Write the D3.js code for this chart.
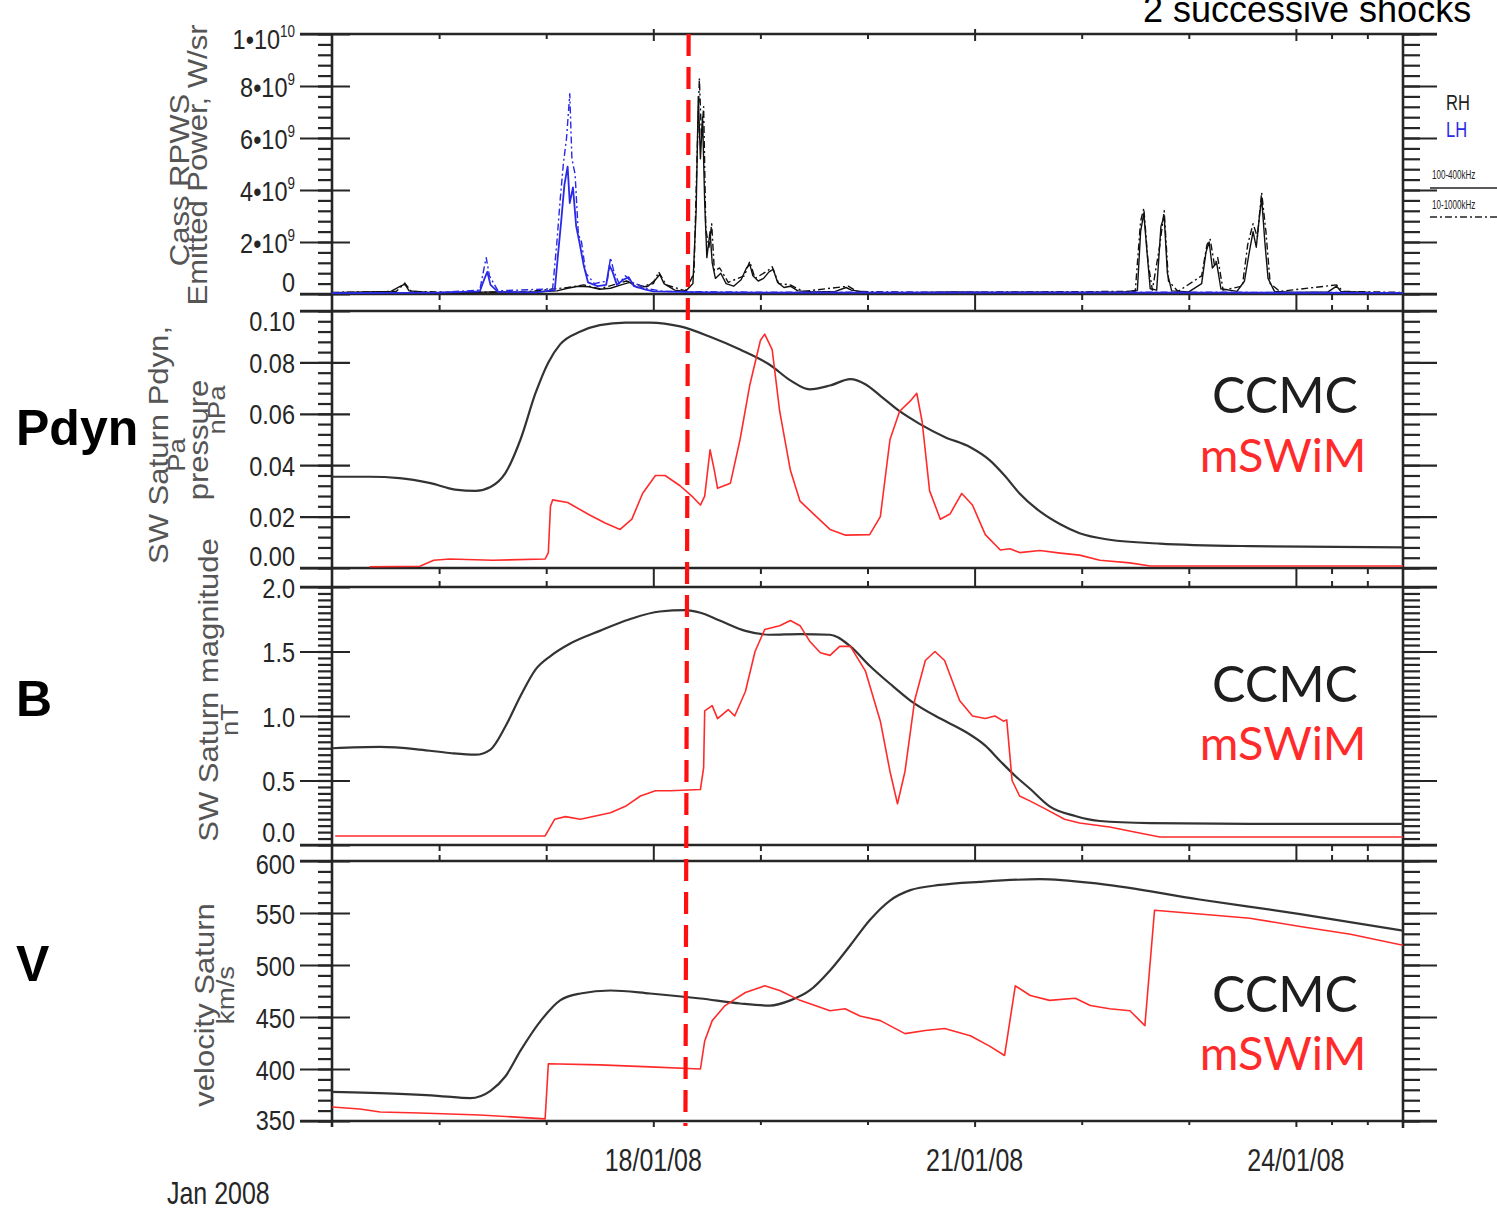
<!DOCTYPE html>
<html>
<head>
<meta charset="utf-8">
<script src="https://cdn.jsdelivr.net/npm/d3@7"></script>
<style>
  html, body { margin: 0; padding: 0; background: #fff; }
  svg { display: block; }
</style>
</head>
<body>
<svg id="chart" width="1497" height="1213"></svg>
<script>
// ---------- Data (time in decimal day of January 2008) ----------

// Cassini RPWS emitted power, units of 1e9 W/sr
const rh100 = [
  [15.00,0.05],[15.30,0.08],[15.55,0.10],[15.64,0.30],[15.68,0.38],[15.72,0.12],[15.90,0.06],[16.20,0.05],
  [16.50,0.08],[16.80,0.06],[17.10,0.12],[17.20,0.22],[17.30,0.30],[17.40,0.28],[17.50,0.18],[17.60,0.22],
  [17.70,0.35],[17.78,0.45],[17.85,0.25],[17.95,0.30],[18.02,0.55],[18.06,0.75],[18.10,0.40],[18.20,0.15],
  [18.30,0.10],[18.37,0.40],[18.40,3.20],[18.42,7.60],[18.44,5.20],[18.46,6.80],[18.48,3.50],[18.50,1.40],
  [18.53,2.40],[18.55,1.20],[18.58,0.60],[18.63,0.80],[18.68,0.40],[18.75,0.30],[18.82,0.55],[18.87,1.00],
  [18.90,1.15],[18.93,0.70],[18.98,0.50],[19.03,0.60],[19.08,0.85],[19.12,0.95],[19.16,0.45],[19.22,0.25],
  [19.28,0.30],[19.35,0.12],[19.50,0.08],[19.70,0.10],[19.80,0.25],[19.85,0.15],[20.00,0.06],[20.40,0.05],
  [20.80,0.08],[21.20,0.06],[21.60,0.07],[22.00,0.06],[22.40,0.08],[22.52,0.15],[22.55,2.40],[22.58,3.10],
  [22.61,1.60],[22.64,0.20],[22.70,0.15],[22.74,2.60],[22.77,3.00],[22.80,0.80],[22.84,0.12],[23.00,0.08],
  [23.12,0.40],[23.16,1.60],[23.19,2.00],[23.22,1.00],[23.26,1.20],[23.30,0.20],[23.45,0.10],[23.52,0.50],
  [23.56,1.50],[23.60,2.40],[23.63,1.80],[23.66,3.00],[23.68,3.70],[23.71,2.00],[23.74,0.60],[23.80,0.10],
  [24.00,0.06],[24.30,0.08],[24.38,0.30],[24.42,0.10],[24.70,0.06],[25.00,0.05]
];
const rh10 = [
  [15.00,0.06],[15.60,0.10],[15.68,0.42],[15.74,0.10],[16.20,0.06],[16.80,0.08],[17.20,0.25],[17.35,0.35],
  [17.50,0.20],[17.75,0.50],[17.90,0.30],[18.00,0.40],[18.05,0.85],[18.12,0.35],[18.30,0.12],[18.38,0.80],
  [18.41,5.50],[18.43,8.30],[18.45,6.00],[18.47,7.20],[18.49,2.50],[18.52,1.80],[18.545,2.70],[18.57,0.90],
  [18.62,1.00],[18.70,0.45],[18.85,0.70],[18.90,1.25],[18.95,0.60],[19.07,0.90],[19.11,1.05],[19.17,0.40],
  [19.28,0.35],[19.40,0.10],[19.82,0.30],[19.90,0.10],[20.50,0.06],[21.50,0.08],[22.50,0.10],[22.55,2.80],
  [22.58,3.30],[22.62,1.20],[22.66,0.15],[22.73,1.90],[22.77,3.20],[22.81,0.50],[22.90,0.10],[23.12,0.70],
  [23.17,1.90],[23.20,2.10],[23.24,1.10],[23.27,1.40],[23.32,0.15],[23.50,0.30],[23.55,1.90],[23.60,2.70],
  [23.64,2.20],[23.68,3.90],[23.72,2.40],[23.76,0.40],[23.85,0.10],[24.38,0.35],[24.44,0.10],[25.00,0.06]
];
const lh100 = [
  [15.00,0.03],[15.50,0.04],[16.00,0.05],[16.38,0.10],[16.42,0.55],[16.45,0.85],[16.48,0.35],[16.55,0.08],
  [16.90,0.06],[17.08,0.15],[17.11,1.50],[17.14,2.80],[17.17,4.20],[17.20,4.90],[17.22,3.50],[17.25,4.10],
  [17.28,2.60],[17.31,2.00],[17.35,1.10],[17.39,0.45],[17.48,0.30],[17.56,0.35],[17.59,1.10],[17.62,0.85],
  [17.66,0.35],[17.72,0.55],[17.77,0.65],[17.82,0.30],[17.92,0.18],[18.00,0.10],[18.50,0.06],[19.50,0.05],
  [20.50,0.05],[21.50,0.05],[22.50,0.05],[23.50,0.05],[25.00,0.04]
];
const lh10 = [
  [15.00,0.04],[16.00,0.06],[16.38,0.15],[16.42,1.00],[16.44,1.40],[16.47,0.70],[16.55,0.12],[17.06,0.20],
  [17.10,2.00],[17.13,3.60],[17.16,5.00],[17.19,6.00],[17.22,7.70],[17.24,5.20],[17.27,4.60],[17.30,2.30],
  [17.33,2.00],[17.37,0.80],[17.45,0.40],[17.57,0.50],[17.60,1.40],[17.63,0.90],[17.68,0.40],[17.74,0.70],
  [17.80,0.45],[17.95,0.20],[18.10,0.10],[19.00,0.07],[21.00,0.07],[23.00,0.07],[25.00,0.05]
];

// Solar-wind dynamic pressure at Saturn, nPa
const ccmcPdyn = [
  [15.00,0.0355],[15.35,0.0355],[15.63,0.0350],[15.92,0.0330],[16.15,0.0305],[16.34,0.0300],[16.48,0.0315],
  [16.62,0.0370],[16.76,0.0500],[16.90,0.0680],[17.02,0.0800],[17.13,0.0870],[17.32,0.0920],[17.50,0.0945],
  [17.74,0.0955],[17.97,0.0955],[18.25,0.0940],[18.53,0.0900],[18.81,0.0850],[19.09,0.0790],[19.28,0.0730],
  [19.46,0.0695],[19.65,0.0710],[19.84,0.0735],[19.98,0.0715],[20.12,0.0670],[20.30,0.0610],[20.49,0.0560],
  [20.72,0.0510],[20.96,0.0470],[21.14,0.0420],[21.28,0.0360],[21.42,0.0290],[21.61,0.0220],[21.80,0.0170],
  [21.98,0.0135],[22.26,0.0110],[22.73,0.0095],[23.57,0.0085],[25.00,0.0080]
];
const mswimPdyn = [
  [15.35,0.0005],[15.82,0.0007],[15.95,0.0030],[16.10,0.0035],[16.50,0.0030],[16.99,0.0035],[17.02,0.0060],
  [17.04,0.0240],[17.06,0.0265],[17.20,0.0255],[17.41,0.0205],[17.55,0.0175],[17.69,0.0150],[17.80,0.0190],
  [17.90,0.0290],[18.02,0.0360],[18.11,0.0360],[18.25,0.0320],[18.36,0.0280],[18.44,0.0245],[18.48,0.0280],
  [18.53,0.0460],[18.57,0.0380],[18.60,0.0310],[18.72,0.0330],[18.81,0.0500],[18.90,0.0710],[19.00,0.0885],
  [19.04,0.0910],[19.11,0.0850],[19.18,0.0610],[19.28,0.0380],[19.37,0.0260],[19.51,0.0205],[19.65,0.0150],
  [19.79,0.0128],[20.02,0.0130],[20.12,0.0200],[20.21,0.0500],[20.30,0.0610],[20.40,0.0650],[20.46,0.0680],
  [20.51,0.0570],[20.58,0.0300],[20.68,0.0190],[20.77,0.0210],[20.88,0.0290],[20.98,0.0245],[21.10,0.0130],
  [21.24,0.0070],[21.33,0.0075],[21.42,0.0060],[21.61,0.0068],[21.80,0.0058],[21.98,0.0050],[22.17,0.0030],
  [22.45,0.0020],[22.64,0.0008],[25.00,0.0008]
];

// IMF magnitude at Saturn, nT
const ccmcB = [
  [15.00,0.75],[15.45,0.76],[15.82,0.74],[16.10,0.713],[16.34,0.70],[16.48,0.74],[16.62,0.92],[16.76,1.155],
  [16.90,1.36],[17.04,1.465],[17.22,1.56],[17.50,1.66],[17.78,1.75],[18.06,1.81],[18.30,1.82],[18.44,1.80],
  [18.62,1.74],[18.86,1.66],[19.09,1.63],[19.37,1.635],[19.65,1.63],[19.84,1.54],[20.02,1.39],[20.21,1.25],
  [20.40,1.12],[20.68,0.98],[20.91,0.88],[21.10,0.77],[21.24,0.65],[21.38,0.535],[21.52,0.434],[21.70,0.30],
  [21.94,0.225],[22.17,0.186],[22.64,0.17],[23.57,0.163],[25.00,0.163]
];
const mswimB = [
  [15.03,0.07],[16.99,0.07],[17.08,0.20],[17.18,0.22],[17.32,0.20],[17.60,0.25],[17.74,0.30],[17.88,0.38],
  [18.02,0.42],[18.16,0.42],[18.44,0.43],[18.47,0.60],[18.48,1.04],[18.55,1.08],[18.60,0.98],[18.70,1.05],
  [18.76,1.00],[18.86,1.19],[18.95,1.50],[19.04,1.67],[19.18,1.70],[19.28,1.74],[19.37,1.70],[19.46,1.58],
  [19.56,1.49],[19.65,1.47],[19.74,1.54],[19.84,1.54],[19.98,1.35],[20.12,0.96],[20.21,0.57],[20.28,0.32],
  [20.35,0.57],[20.44,1.12],[20.54,1.43],[20.63,1.50],[20.72,1.43],[20.86,1.12],[20.98,1.00],[21.10,0.98],
  [21.19,1.00],[21.27,0.96],[21.30,0.97],[21.35,0.50],[21.42,0.38],[21.52,0.34],[21.66,0.28],[21.84,0.20],
  [21.98,0.17],[22.26,0.14],[22.54,0.093],[22.73,0.062],[25.00,0.062]
];

// Solar-wind speed at Saturn, km/s
const ccmcV = [
  [15.00,378],[15.63,376],[16.01,374],[16.29,372],[16.48,379],[16.62,393],[16.76,417.6],[16.95,446.5],
  [17.13,466],[17.32,472.6],[17.60,475.5],[17.97,472.6],[18.44,467.8],[18.81,463],[19.09,461],[19.28,466],
  [19.46,475.5],[19.65,494.8],[19.84,519],[20.02,543],[20.21,562],[20.40,572],[20.68,577],[21.05,580],
  [21.61,582.6],[22.17,578],[23.10,563],[24.04,549],[25.00,533]
];
const mswimV = [
  [15.00,363.5],[15.26,361.6],[15.45,358.7],[15.82,357.7],[16.38,355.8],[16.99,352],[17.02,405],[17.50,404],
  [17.97,402],[18.44,400],[18.48,427],[18.55,446.5],[18.67,461],[18.86,473.6],[19.04,480],[19.18,475.5],
  [19.37,466],[19.65,456],[19.79,458],[19.93,451],[20.12,446.5],[20.35,434],[20.54,437],[20.72,439],
  [20.96,432],[21.14,422],[21.28,413],[21.38,480],[21.52,470.7],[21.70,466],[21.94,468],[22.08,461],
  [22.26,458],[22.45,456],[22.59,441.7],[22.68,552.7],[23.10,549],[23.57,545],[24.04,537],[24.51,529.5],
  [25.00,519]
];

// Time axis
const timeDomain = [15, 25];
const dateTicks = [18, 21, 24];
const dateLabels = ["18/01/08", "21/01/08", "24/01/08"];
const minorDateTicks = [16, 17, 19, 20, 22, 23, 24.333, 24.667];
const shockTime = [18.33, 18.30];   // dashed marker: top and bottom ends

// Y tick values per panel
const powerTicks = [0, 2, 4, 6, 8, 10];
const pdynTicks = [0, 0.02, 0.04, 0.06, 0.08, 0.10];
const bTicks = [0, 0.5, 1.0, 1.5, 2.0];
const vTicks = [350, 400, 450, 500, 550, 600];

// ---------- Drawing ----------
const FONT = "'Liberation Sans', Arial, Helvetica, sans-serif";
const INK = "#262626";
const RED = "#ff2b2b";
const BLUE = "#2a2ae6";

const svg = d3.select("#chart");
const x = d3.scaleLinear().domain(timeDomain).range([332, 1403]);
const xL = 300, xR = 1437;

// labelShift: baseline offset of the lowest / highest label so stacked panels don't collide
const panels = [
  { id: "power", top: 34, bottom: 294, domain: [0, 10], ticks: powerTicks, minorStep: 0.4,
    lowShift: -3, highShift: 14,
    label: d => d === 0 ? ["0", null] : d === 10 ? ["1\u202210", "10"] : [d + "\u202210", "9"] },
  { id: "pdyn", top: 311, bottom: 568, domain: [0, 0.1], ticks: pdynTicks, minorStep: 0.004,
    lowShift: -3, highShift: 19,
    label: d => [d.toFixed(2), null] },
  { id: "bmag", top: 587, bottom: 845, domain: [0, 2], ticks: bTicks, minorStep: 0.05,
    lowShift: -4, highShift: 10,
    label: d => [d.toFixed(1), null] },
  { id: "vel", top: 861, bottom: 1121, domain: [350, 600], ticks: vTicks, minorStep: 10,
    lowShift: 8, highShift: 12,
    label: d => [String(d), null] }
];
panels.forEach(p => {
  p.y = d3.scaleLinear().domain(p.domain).range([p.bottom, p.top]);
  const n = Math.round((p.domain[1] - p.domain[0]) / p.minorStep);
  p.minor = d3.range(n + 1).map(i => p.domain[0] + i * p.minorStep);
});

const defs = svg.append("defs");
panels.forEach(p => {
  defs.append("clipPath").attr("id", "clip-" + p.id)
    .append("rect").attr("x", x.range()[0]).attr("y", p.top - 2)
    .attr("width", x.range()[1] - x.range()[0]).attr("height", p.bottom - p.top + 3);
});

// Axes and frames
const frame = svg.append("g").attr("stroke", INK).attr("fill", "none");

panels.forEach(p => {
  // left axis: minor ticks outward, major ticks crossing the spine
  const gMinL = svg.append("g").attr("transform", `translate(${x.range()[0]},0)`)
    .call(d3.axisLeft(p.y).tickValues(p.minor).tickSize(14).tickFormat(""));
  const gMajL = svg.append("g").attr("transform", `translate(${x.range()[0]},0)`)
    .call(d3.axisLeft(p.y).tickValues(p.ticks).tickSize(32).tickFormat(""));
  gMajL.selectAll(".tick line").attr("x1", 18);
  // right axis
  const gMinR = svg.append("g").attr("transform", `translate(${x.range()[1]},0)`)
    .call(d3.axisRight(p.y).tickValues(p.minor).tickSize(17).tickFormat(""));
  const gMajR = svg.append("g").attr("transform", `translate(${x.range()[1]},0)`)
    .call(d3.axisRight(p.y).tickValues(p.ticks).tickSize(34).tickFormat(""));
  [gMinL, gMajL, gMinR, gMajR].forEach(g => {
    g.select(".domain").remove();
    g.selectAll(".tick line").attr("stroke", INK).attr("stroke-width", 2.2);
  });

  // tick labels (narrow Helvetica look, optional superscript)
  const lo = p.ticks[0], hi = p.ticks[p.ticks.length - 1];
  gMajL.selectAll(".tick").each(function (d) {
    const [main, sup] = p.label(d);
    const dy = d === lo ? p.lowShift : d === hi ? p.highShift : 10;
    const t = d3.select(this).append("g")
      .attr("transform", `translate(-37,${dy}) scale(0.84,1)`)
      .append("text").attr("text-anchor", "end")
      .attr("font-family", FONT).attr("font-size", 28).attr("fill", INK);
    t.append("tspan").text(main);
    if (sup) t.append("tspan").attr("dy", -12).attr("font-size", 16).text(sup);
  });

  // horizontal frame lines
  [p.top, p.bottom].forEach(yy => {
    frame.append("line").attr("x1", xL).attr("x2", xR).attr("y1", yy).attr("y2", yy)
      .attr("stroke-width", 2.4);
  });
});

// vertical spines
frame.append("line").attr("x1", x.range()[0]).attr("x2", x.range()[0]).attr("y1", 33).attr("y2", 1127).attr("stroke-width", 2.6);
frame.append("line").attr("x1", x.range()[1]).attr("x2", x.range()[1]).attr("y1", 33).attr("y2", 1128).attr("stroke-width", 2.6);

// time ticks on every frame line
function timeTicks(yy, values, size, dir) {
  const axis = (dir > 0 ? d3.axisBottom(x) : d3.axisTop(x)).tickValues(values).tickSize(size).tickFormat("");
  const g = svg.append("g").attr("transform", `translate(0,${yy})`).call(axis);
  g.select(".domain").remove();
  g.selectAll(".tick line").attr("stroke", INK).attr("stroke-width", 2);
  return g;
}
for (let i = 0; i < panels.length - 1; i++) {
  const a = panels[i].bottom, b = panels[i + 1].top;
  timeTicks(a, minorDateTicks, 6, 1);
  timeTicks(b, minorDateTicks, 6, -1);
  timeTicks(a, dateTicks, b - a, 1);
}
timeTicks(panels[0].top, minorDateTicks, 5, 1);
timeTicks(panels[0].top, dateTicks, 7, 1);
timeTicks(panels[0].top, dateTicks, 5, -1);
timeTicks(panels[3].bottom, minorDateTicks, 4, 1);
timeTicks(panels[3].bottom, dateTicks, 6, 1);

// date labels
dateTicks.forEach((d, i) => {
  svg.append("g").attr("transform", `translate(${x(d)},1171) scale(0.78,1)`)
    .append("text").attr("text-anchor", "middle").attr("font-family", FONT)
    .attr("font-size", 32).attr("fill", INK).text(dateLabels[i]);
});
svg.append("g").attr("transform", `translate(167,1204) scale(0.78,1)`)
  .append("text").attr("font-family", FONT).attr("font-size", 32).attr("fill", INK).text("Jan 2008");

// ---------- Series ----------
function drawLine(p, data, color, width, dash, curve) {
  const line = d3.line().x(d => x(d[0])).y(d => p.y(d[1])).curve(curve || d3.curveLinear);
  svg.append("path").datum(data).attr("clip-path", `url(#clip-${p.id})`)
    .attr("fill", "none").attr("stroke", color).attr("stroke-width", width)
    .attr("stroke-linejoin", "round").attr("stroke-dasharray", dash || null)
    .attr("d", line);
}
const [pP, pD, pB, pV] = panels;
drawLine(pP, rh10, "#111", 1.4, "7,3,2,3");
drawLine(pP, rh100, "#111", 1.4);
drawLine(pP, lh10, BLUE, 1.4, "7,3,2,3");
drawLine(pP, lh100, BLUE, 1.8);

drawLine(pD, ccmcPdyn, "#333", 2.2, null, d3.curveMonotoneX);
drawLine(pD, mswimPdyn, RED, 1.6);
drawLine(pB, ccmcB, "#333", 2.2, null, d3.curveMonotoneX);
drawLine(pB, mswimB, RED, 1.6);
drawLine(pV, ccmcV, "#333", 2.2, null, d3.curveMonotoneX);
drawLine(pV, mswimV, RED, 1.6);

// shock-arrival marker
svg.append("line")
  .attr("x1", x(shockTime[0])).attr("y1", pP.top)
  .attr("x2", x(shockTime[1])).attr("y2", 1126)
  .attr("stroke", "#ff1010").attr("stroke-width", 4.2).attr("stroke-dasharray", "22,11");

// ---------- Legends ----------
const modelFont = "Lato, 'Open Sans', sans-serif";
[[pD, 413, 472], [pB, 702, 760], [pV, 1012, 1070]].forEach(([p, y1, y2]) => {
  svg.append("text").attr("x", 1285).attr("y", y1).attr("text-anchor", "middle")
    .attr("font-family", modelFont).attr("font-size", 50).attr("fill", "#1e1e1e").text("CCMC");
  svg.append("text").attr("x", 1283).attr("y", y2).attr("text-anchor", "middle")
    .attr("font-family", modelFont).attr("font-size", 47).attr("fill", RED).text("mSWiM");
});

// RPWS legend
function narrow(xx, yy, sx, size, color, str) {
  svg.append("g").attr("transform", `translate(${xx},${yy}) scale(${sx},1)`)
    .append("text").attr("font-family", FONT).attr("font-size", size).attr("fill", color).text(str);
}
narrow(1446, 110, 0.75, 22, "#222", "RH");
narrow(1446, 137, 0.75, 22, BLUE, "LH");
narrow(1432, 179, 0.62, 13, "#222", "100-400kHz");
svg.append("line").attr("x1", 1430).attr("x2", 1497).attr("y1", 188).attr("y2", 188).attr("stroke", "#222").attr("stroke-width", 1.6);
narrow(1432, 209, 0.62, 13, "#222", "10-1000kHz");
svg.append("line").attr("x1", 1430).attr("x2", 1497).attr("y1", 217).attr("y2", 217).attr("stroke", "#222")
  .attr("stroke-width", 1.6).attr("stroke-dasharray", "7,3,2,3");

// ---------- Axis titles ----------
function vtitle(xx, yy, size, str, color) {
  svg.append("g").attr("transform", `translate(${xx},${yy}) rotate(-90) scale(1.15,1)`)
    .append("text").attr("text-anchor", "middle").attr("font-family", FONT)
    .attr("font-size", size).attr("fill", color || "#555").text(str);
}
vtitle(189, 180, 27, "Cass RPWS");
vtitle(207, 165, 27, "Emitted Power, W/sr");
vtitle(168, 445, 27, "SW Saturn Pdyn,");
vtitle(185, 455, 24, "Pa");
vtitle(208, 440, 27, "pressure");
vtitle(225, 410, 24, "nPa");
vtitle(218, 690, 27, "SW Saturn magnitude");
vtitle(238, 720, 24, "nT");
vtitle(214, 1005, 27, "velocity Saturn");
vtitle(234, 995, 24, "km/s");

// ---------- Panel names ----------
[["Pdyn", 445], ["B", 716], ["V", 981]].forEach(([s, yy]) => {
  svg.append("text").attr("x", 16).attr("y", yy).attr("font-family", FONT)
    .attr("font-weight", "bold").attr("font-size", 50).attr("fill", "#000").text(s);
});

// Heading (runs off the right edge)
svg.append("text").attr("x", 1143).attr("y", 22).attr("font-family", FONT)
  .attr("font-size", 36).attr("fill", "#000").text("2 successive shocks");
</script>
</body>
</html>
